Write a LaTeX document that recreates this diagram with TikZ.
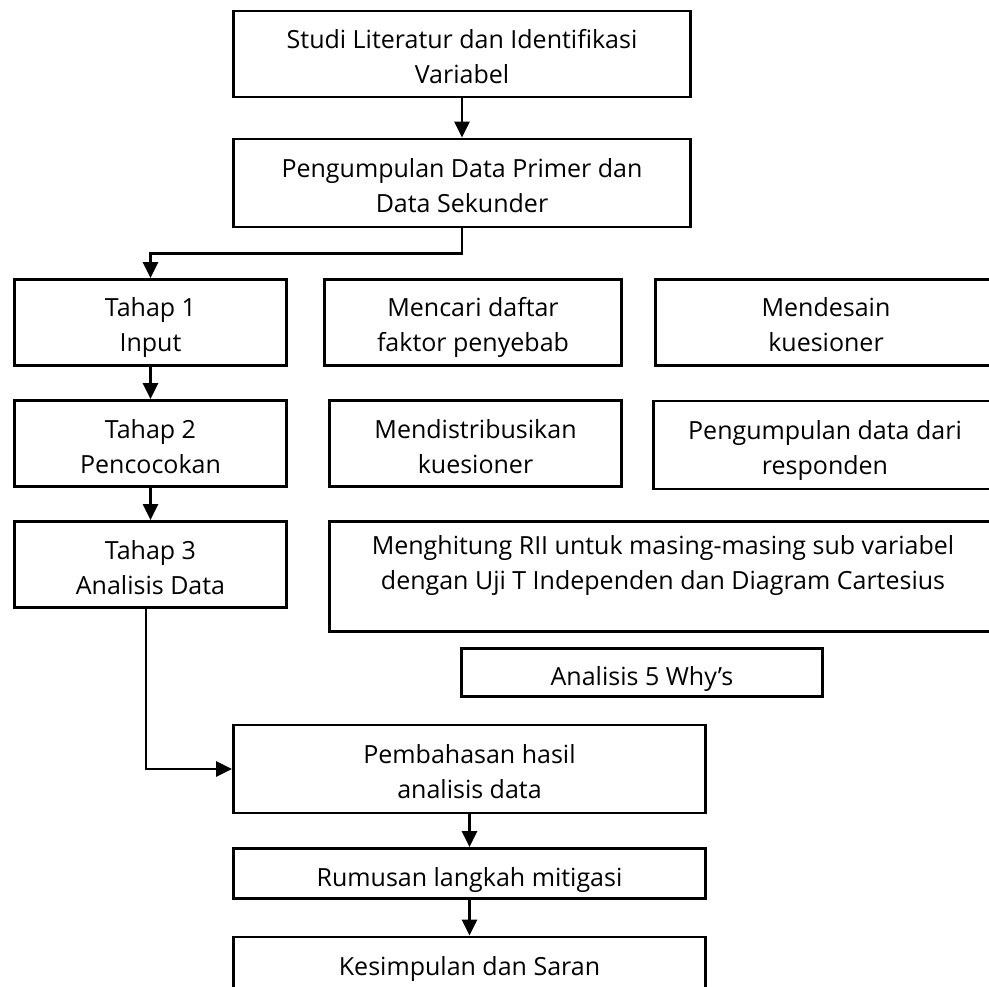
\documentclass[tikz,border=0pt]{standalone}
\usepackage{fontspec}
\setmainfont{Open Sans}
\usetikzlibrary{arrows.meta}
\begin{document}
\begin{tikzpicture}[x=1pt,y=-1pt,
  kotak/.style={draw,line width=2.8pt,align=center,inner sep=0pt,font=\fontsize{25}{35}\selectfont,
    text height=32pt,text depth=7pt},
  dua/.style={kotak,text height=66pt},
  panah/.style={line width=2.8pt,-{Triangle[length=16pt,width=15pt]}}]
  \useasboundingbox (0,0) rectangle (989,987);
  \clip (0,0) rectangle (989,987);
  % alur utama
  \node[dua,minimum width=457pt,minimum height=86pt] (studi) at (462,54) {Studi Literatur dan Identifikasi\\Variabel};
  \node[dua,minimum width=457pt,minimum height=88pt] (kumpul) at (462,183) {Pengumpulan Data Primer dan\\Data Sekunder};
  \node[dua,minimum width=272pt,minimum height=86pt] (tahapsatu) at (150.5,322.5) {Tahap 1\\Input};
  \node[dua,minimum width=272pt,minimum height=86pt] (tahapdua) at (150.5,443.5) {Tahap 2\\Pencocokan};
  \node[dua,minimum width=272pt,minimum height=86pt] (tahaptiga) at (150.5,564.5) {Tahap 3\\Analisis Data};
  % kegiatan tiap tahap
  \node[dua,minimum width=297pt,minimum height=86pt] (faktor) at (473,322.5) {Mencari daftar\\faktor penyebab};
  \node[dua,minimum width=341pt,minimum height=86pt] (desain) at (826,322.5) {Mendesain\\kuesioner};
  \node[dua,minimum width=292pt,minimum height=86pt] (distribusi) at (475.5,443.5) {Mendistribusikan\\kuesioner};
  \node[dua,minimum width=343pt,minimum height=88pt] (responden) at (825,445) {Pengumpulan data dari\\responden};
  \node[kotak,minimum width=667pt,minimum height=110pt] (rii) at (663,576.5) {Menghitung RII untuk masing-masing sub variabel\\dengan Uji T Independen dan Diagram Cartesius};
  \node[kotak,minimum width=361pt,minimum height=48pt] (why) at (642,672.5) {Analisis 5 Why’s};
  % hasil
  \node[dua,minimum width=472pt,minimum height=88pt] (bahas) at (469.5,769) {Pembahasan hasil\\analisis data};
  \node[kotak,minimum width=472pt,minimum height=50pt] (rumus) at (469.5,873.5) {Rumusan langkah mitigasi};
  \node[kotak,minimum width=472pt,minimum height=52pt] (simpul) at (469.5,963) {Kesimpulan dan Saran};
  % panah
  \draw[panah] (studi) -- (kumpul);
  \draw[panah] (kumpul.south) -- ++(0,25) -| (tahapsatu.north);
  \draw[panah] (tahapsatu) -- (tahapdua);
  \draw[panah] (tahapdua) -- (tahaptiga);
  \draw[panah] ([xshift=-4.5pt]tahaptiga.south) |- (bahas.west);
  \draw[panah] (bahas) -- (rumus);
  \draw[panah] (rumus) -- (simpul);
\end{tikzpicture}
\end{document}
